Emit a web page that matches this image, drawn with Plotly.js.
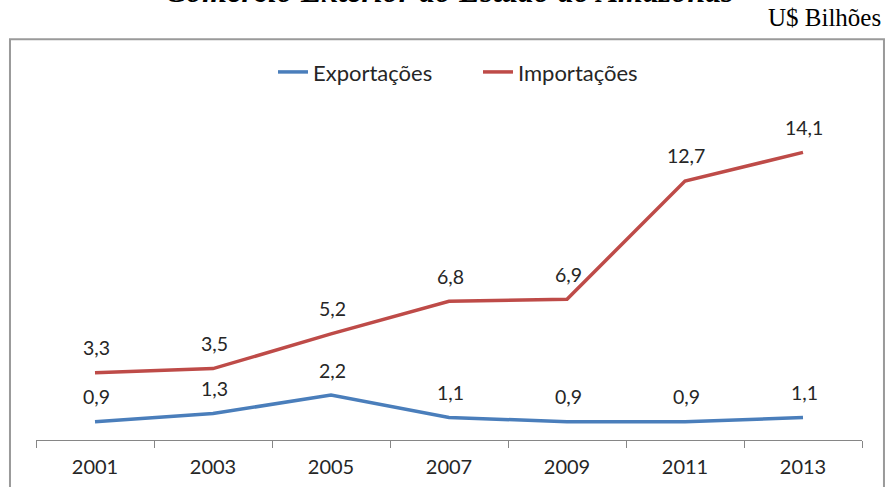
<!DOCTYPE html>
<html>
<head>
<meta charset="utf-8">
<script src="https://cdn.plot.ly/plotly-3.0.1.min.js"></script>
<style>html,body{margin:0;padding:0;background:#fff;}#chart{width:887px;height:487px;}</style>
</head>
<body>
<div id="chart"></div>
<script>
const years = ['2001','2003','2005','2007','2009','2011','2013'];
const exportacoes = [0.9, 1.3, 2.2, 1.1, 0.9, 0.9, 1.1];
const importacoes = [3.3, 3.5, 5.2, 6.8, 6.9, 12.7, 14.1];
const seriesNames = ['Exportações', 'Importações'];
const titleText = 'Comércio Exterior do Estado do Amazonas';
const unitText = 'U$ Bilhões';

const fmt = v => v.toFixed(1).replace('.', ',');
const sans = 'Lato, "Open Sans", sans-serif';
const txtColor = '#262626';

const traces = [
  {x: years, y: exportacoes, name: seriesNames[0], type: 'scatter', mode: 'lines',
   line: {color: '#4A7EBB', width: 3.5}},
  {x: years, y: importacoes, name: seriesNames[1], type: 'scatter', mode: 'lines',
   line: {color: '#BE4B48', width: 3.5}}
];

const labelAnn = [];
[exportacoes, importacoes].forEach(arr => {
  arr.forEach((v, i) => {
    labelAnn.push({x: i, y: v, xref: 'x', yref: 'y', text: fmt(v), showarrow: false,
      yanchor: 'middle', yshift: 25, xshift: 1, font: {family: sans, size: 19.5, color: txtColor}});
  });
});

const layout = {
  width: 887, height: 487,
  margin: {l: 36, r: 25, t: 100, b: 47, pad: 0},
  paper_bgcolor: '#fff', plot_bgcolor: '#fff',
  showlegend: true,
  legend: {orientation: 'h', x: 0.2869, xanchor: 'left', y: 1.082, yanchor: 'middle',
    font: {family: sans, size: 22, color: txtColor}, itemwidth: 30, tracegroupgap: 0,
    entrywidth: 160, entrywidthmode: 'pixels'},
  xaxis: {type: 'category', categoryorder: 'array', categoryarray: years,
    range: [-0.5, years.length - 0.5], autorange: false,
    tickson: 'boundaries', ticks: 'outside', ticklen: 7, ticklabelstandoff: 9,
    tickcolor: '#868686', showline: true, linecolor: '#868686', linewidth: 1,
    showgrid: false, zeroline: false, fixedrange: true,
    tickfont: {family: sans, size: 20, color: txtColor}},
  yaxis: {range: [0, 16.67], autorange: false, visible: false, showgrid: false, zeroline: false, fixedrange: true},
  shapes: [{type: 'rect', xref: 'paper', yref: 'paper', x0: -0.0315, x1: 1.0266, y0: -0.5, y1: 1.179,
    line: {color: '#9a9a9a', width: 2}, fillcolor: 'rgba(0,0,0,0)', layer: 'below'}],
  annotations: labelAnn.concat([
    {xref: 'paper', yref: 'paper', x: 0.5, y: 1.2588, yshift: 1.5, xanchor: 'center', yanchor: 'bottom',
     text: '<b><i>' + titleText + '</i></b>', showarrow: false,
     font: {family: '"Liberation Serif", "Times New Roman", serif', size: 32, color: '#000'}},
    {xref: 'paper', yref: 'paper', x: 1.0254, y: 1.197, xanchor: 'right', yanchor: 'bottom',
     text: unitText, showarrow: false,
     font: {family: '"Liberation Serif", "Times New Roman", serif', size: 25, color: '#000'}}
  ])
};

Plotly.newPlot('chart', traces, layout, {displayModeBar: false, staticPlot: true});
</script>
</body>
</html>
